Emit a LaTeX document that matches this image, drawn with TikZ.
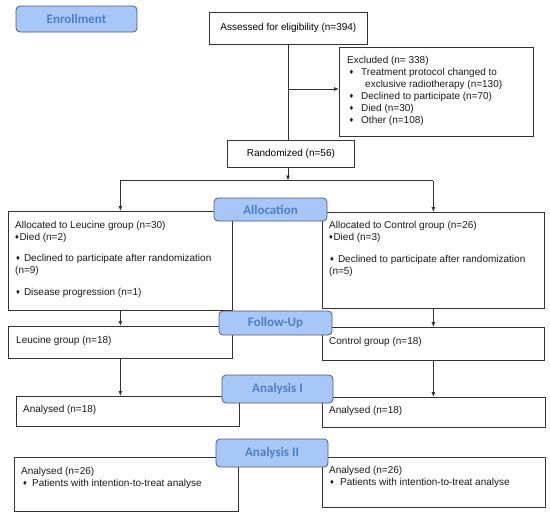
\documentclass[tikz,border=0pt]{standalone}
\usepackage{fontspec}
\setmainfont{Liberation Sans}
\newfontfamily\lblfont{Carlito}
\usetikzlibrary{arrows.meta}
\definecolor{lblfill}{HTML}{A8C7F9}
\definecolor{lbldraw}{HTML}{505A70}
\definecolor{lbltext}{HTML}{4F7FC1}
\definecolor{linec}{HTML}{333333}
\newcommand{\dia}{{\fontsize{7.5}{7.5}\selectfont\raisebox{0.8pt}{♦}}}
\begin{document}
\begin{tikzpicture}[x=1pt,y=-1pt,
 box/.style={draw=linec, line width=0.8pt, fill=white, inner sep=0pt, anchor=north west, font=\fontsize{10}{12}\selectfont},
 txt/.style={anchor=north west, inner sep=0pt, align=left, text=black!90, font=\fontsize{10}{12}\selectfont},
 lbl/.style={draw=lbldraw, line width=0.8pt, fill=lblfill, rounded corners=4pt, text=lbltext, font=\lblfont\bfseries\fontsize{13}{13}\selectfont, inner sep=0pt},
 arr/.style={draw=linec, line width=0.8pt, -{Latex[length=5pt,width=4pt]}},
 ln/.style={draw=linec, line width=0.8pt}]
\useasboundingbox (0,0) rectangle (550,517);
\fill[white] (0,0) rectangle (550,517);
% boxes
\node[box, minimum width=158pt, minimum height=32pt] (assess) at (209,12) {Assessed for eligibility (n=394)};
\node[box, minimum width=194pt, minimum height=89pt] (excl) at (339,47) {};
\node[box, minimum width=127pt, minimum height=27pt] (rand) at (227,140) {Randomized (n=56)};
\node[box, minimum width=224pt, minimum height=99pt] (leu) at (8,211) {};
\node[box, minimum width=222pt, minimum height=96pt] (ctrl) at (322,212) {};
\node[box, minimum width=224pt, minimum height=32pt] (leu2) at (8,326) {};
\node[box, minimum width=222pt, minimum height=33pt] (ctrl2) at (322,327) {};
\node[box, minimum width=223pt, minimum height=30pt] (an1L) at (16,396) {};
\node[box, minimum width=223pt, minimum height=30pt] (an1R) at (322,397) {};
\node[box, minimum width=224pt, minimum height=54pt] (an2L) at (14,457) {};
\node[box, minimum width=223pt, minimum height=50pt] (an2R) at (322,457) {};
% texts
\node[txt] (texcl) at (347,56.3) {Excluded (n= 338)\\
\hspace*{2.5pt}\makebox[11.5pt][l]{\dia}Treatment protocol changed to\\
\hspace*{18pt}exclusive radiotherapy (n=130)\\
\hspace*{2.5pt}\makebox[11.5pt][l]{\dia}Declined to participate (n=70)\\
\hspace*{2.5pt}\makebox[11.5pt][l]{\dia}Died (n=30)\\
\hspace*{2.5pt}\makebox[11.5pt][l]{\dia}Other (n=108)};
\node[txt] (tleu) at (15,221.3) {Allocated to Leucine group (n=30)\\
\dia\hspace{0.5pt}Died (n=2)\\[9pt]
\hspace*{1pt}\dia\hspace{4pt}Declined to participate after randomization\\
(n=9)\\[10pt]
\hspace*{1pt}\dia\hspace{4pt}Disease progression (n=1)};
\node[txt] (tctrl) at (329,221.3) {Allocated to Control group (n=26)\\
\dia\hspace{0.5pt}Died (n=3)\\[10pt]
\hspace*{1pt}\dia\hspace{4pt}Declined to participate after randomization\\
(n=5)};
\node[txt] (tleu2) at (16,336.3) {Leucine group (n=18)};
\node[txt] (tctrl2) at (329,337.3) {Control group (n=18)};
\node[txt] (tan1L) at (23,405.3) {Analysed (n=18)};
\node[txt] (tan1R) at (329,406.3) {Analysed (n=18)};
\node[txt] (tan2L) at (21,467.3) {Analysed (n=26)\\
\hspace*{2pt}\makebox[9pt][l]{\dia}Patients with intention-to-treat analyse};
\node[txt] (tan2R) at (329,466.3) {Analysed (n=26)\\
\hspace*{1pt}\makebox[10pt][l]{\dia}Patients with intention-to-treat analyse};
% connectors
\coordinate (branch) at (288,89);
\coordinate (split) at (288,180.5);
\draw[ln] (branch |- assess.south) -- (branch |- rand.north);
\draw[arr] (branch) -- (branch -| excl.west);
\draw[arr] (split |- rand.south) -- (split);
\draw[ln] (split -| leu.north) -- (split -| ctrl.north);
\draw[arr] (split -| leu.north) -- (leu.north);
\draw[arr] (split -| ctrl.north) -- (ctrl.north);
\draw[arr] (leu.south) -- (leu2.north);
\draw[arr] (ctrl.south) -- (ctrl2.north);
\draw[arr] (leu2.south) -- (leu2.south |- an1L.north);
\draw[arr] (ctrl2.south) -- (ctrl2.south |- an1R.north);
% stage labels
\node[lbl, minimum width=121pt, minimum height=26pt] (enroll) at (76.5,19) {Enrollment};
\node[lbl, minimum width=113pt, minimum height=23pt] (alloc) at (270.5,209.5) {Allocation};
\node[lbl, minimum width=113pt, minimum height=24pt] (follow) at (275.5,323) {Follow-Up};
\node[lbl, minimum width=111pt, minimum height=28pt] (anI) at (277.5,389) {Analysis I};
\node[lbl, minimum width=112pt, minimum height=28pt] (anII) at (272,453) {Analysis II};
\end{tikzpicture}
\end{document}
